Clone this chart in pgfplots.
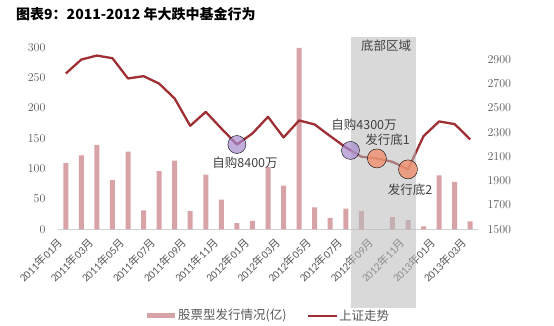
\documentclass[border=0pt]{standalone}
\usepackage{fontspec}
\setmainfont{Carlito}
\newfontfamily\cjk{Noto Sans CJK SC}
\usepackage{pgfplots}
\pgfplotsset{compat=1.18}
\definecolor{barc}{HTML}{D8A3A6}
\definecolor{linec}{HTML}{9E2F35}
\definecolor{tickc}{HTML}{595959}
\definecolor{txtc}{HTML}{404040}
\definecolor{purc}{HTML}{A68BCF}
\definecolor{orac}{HTML}{F28C68}
\newcommand{\ym}[2]{#1{\cjk 年}#2{\cjk 月}}
\pgfplotstableread{
x y
0 109
1 122
2 139
3 81
4 128
5 31
6 96
7 113
8 30
9 90
10 49
11 10
12 14
13 103
14 72
15 299
16 36
17 19
18 34
19 30
20 0
21 20
22 15
23 5
24 89
25 78
26 13
}\bars
\pgfplotstableread{
x y
0 2784
1 2899
2 2932
3 2910
4 2743
5 2762
6 2701
7 2578
8 2353
9 2468
10 2331
11 2199
12 2290
13 2427
14 2257
15 2397
16 2364
17 2268
18 2175
19 2098
20 2084
21 2056
22 1994
23 2268
24 2389
25 2367
26 2241
}\sh
\begin{document}
\begin{tikzpicture}[x=1pt,y=1pt]
\useasboundingbox (0pt,0pt) rectangle (554pt,326pt);
\begin{axis}[
 at={(58pt,96.7pt)}, anchor=south west, width=420pt, height=182pt, scale only axis,
 xmin=-0.5, xmax=26.5, ymin=0, ymax=300,
 ytick={0,50,...,300},
 axis line style={draw=none}, tick style={draw=none},
 xtick={0,2,...,26},
 xticklabels={\ym{2011}{01},\ym{2011}{03},\ym{2011}{05},\ym{2011}{07},\ym{2011}{09},\ym{2011}{11},\ym{2012}{01},\ym{2012}{03},\ym{2012}{05},\ym{2012}{07},\ym{2012}{09},\ym{2012}{11},\ym{2013}{01},\ym{2013}{03}},
 xticklabel style={yshift=-9pt, xshift=-3pt, rotate=45, anchor=east, font=\fontsize{11}{12}\selectfont, text=tickc},
 yticklabel style={font=\fontsize{12.5}{13}\selectfont, text=tickc, xshift=-9pt},
 clip=false,
]
\draw[color={rgb,255:red,210;green,210;blue,210}, line width=0.8pt] (axis cs:-0.5,0) -- (axis cs:26.5,0);
\addplot[ybar, bar width=5pt, fill=barc, draw=none] table[x=x,y=y] {\bars};
\end{axis}
\begin{axis}[
 at={(58pt,96.7pt)}, anchor=south west, width=420pt, height=182pt, scale only axis,
 xmin=-0.5, xmax=26.5, ymin=1500, ymax=3000,
 ytick={1500,1700,...,2900}, yticklabel pos=right, xtick=\empty,
 axis line style={draw=none}, tick style={draw=none},
 yticklabel style={font=\fontsize{12.5}{13}\selectfont, text=tickc, xshift=6pt},
 /pgf/number format/1000 sep={},
]
\addplot[linec, line width=2.3pt, line join=round] table[x=x,y=y] {\sh};
\end{axis}
\fill[color={rgb,255:red,185;green,185;blue,185}, opacity=0.55] (351pt,18pt) rectangle (416pt,289pt);
\begin{axis}[
 at={(58pt,96.7pt)}, anchor=south west, width=420pt, height=182pt, scale only axis,
 xmin=-0.5, xmax=26.5, ymin=1500, ymax=3000, hide axis, clip=false,
]
\addplot[only marks, mark=*, mark size=9pt, mark options={draw=none, fill=purc, fill opacity=0.7}] coordinates {(11,2199) (18.3,2150)};
\addplot[only marks, mark=*, mark size=9.5pt, mark options={draw=none, fill=orac, fill opacity=0.75}] coordinates {(20,2084) (22,1994)};
\end{axis}
\begin{scope}[every node/.style={font=\cjk\fontsize{12.5}{13}\selectfont, text=txtc, inner sep=0pt}]
\node at (245pt,163pt) {自购8400万};
\node at (364pt,201.7pt) {自购4300万};
\node at (387.5pt,186pt) {发行底1};
\node at (410pt,136pt) {发行底2};
\node at (386pt,280pt) {底部区域};
\end{scope}
\node[anchor=west, inner sep=0pt, font=\cjk\bfseries\fontsize{14}{14}\selectfont] at (16pt,312pt) {图表9：2011-2012 年大跌中基金行为};
\fill[barc] (147pt,8pt) rectangle (175pt,12.5pt);
\node[anchor=west, inner sep=0pt, font=\cjk\fontsize{12.5}{13}\selectfont, text=tickc] at (178pt,10.3pt) {股票型发行情况(亿)};
\draw[linec, line width=2.3pt] (308pt,10.3pt) -- (337pt,10.3pt);
\node[anchor=west, inner sep=0pt, font=\cjk\fontsize{12.5}{13}\selectfont, text=tickc] at (339pt,10.3pt) {上证走势};
\end{tikzpicture}
\end{document}
